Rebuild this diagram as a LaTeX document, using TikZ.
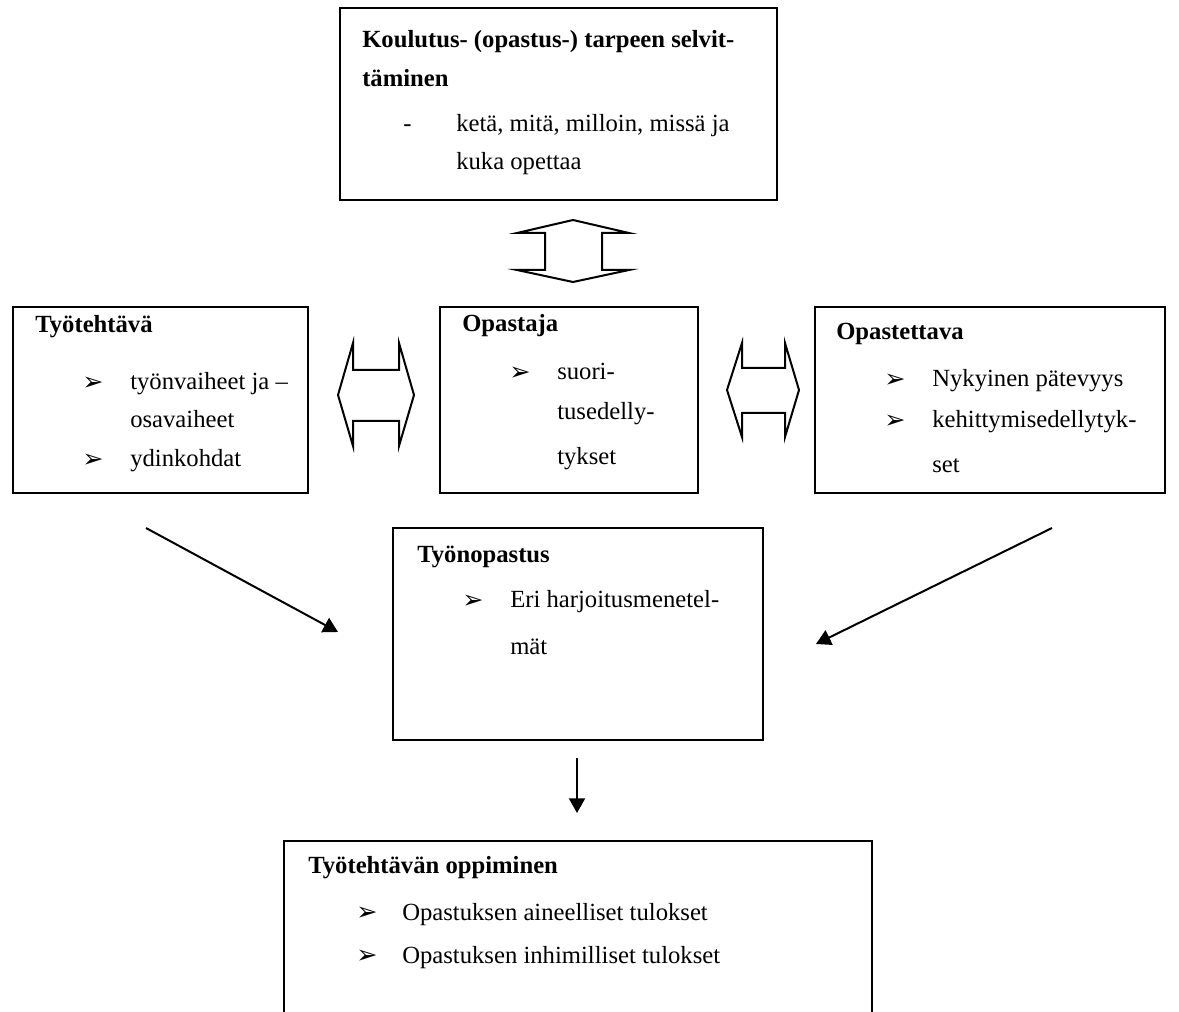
\documentclass[tikz,border=0pt]{standalone}
\usepackage{fontspec}
\setmainfont{Liberation Serif}
\newfontfamily\symfont{DejaVu Sans}
\usetikzlibrary{arrows.meta}
\newdimen\px
\px=0.75pt
\tikzset{
  box/.style={draw, line width=1.3pt, anchor=north west, inner sep=0pt, outer sep=0pt},
  txt/.style={anchor=base west, inner sep=0pt, font=\fontsize{18.5}{22}\selectfont},
  hd/.style={txt, font=\fontsize{18.5}{22}\selectfont\bfseries},
  bul/.style={anchor=south west, inner sep=0pt, font=\symfont\fontsize{19}{22}\selectfont},
  dbl/.style={draw, line width=1.5pt, line join=miter, fill=white},
  arr/.style={line width=1.5pt, -{Triangle[length=11pt,width=12pt]}}
}
\begin{document}
\begin{tikzpicture}[x=0.75pt, y=-0.75pt]
\useasboundingbox (0,0) rectangle (1179,1012);
\clip (0,0) rectangle (1179,1012);
\fill[white] (0,0) rectangle (1179,1012);

% boxes
\node[box, minimum width=437\px, minimum height=192\px] (top) at (340,8) {};
\node[box, minimum width=295\px, minimum height=186\px] (tt) at (13,307) {};
\node[box, minimum width=258\px, minimum height=186\px] (op) at (440,307) {};
\node[box, minimum width=350\px, minimum height=186\px] (ope) at (815,307) {};
\node[box, minimum width=370\px, minimum height=212\px] (ton) at (393,528) {};
\node[box, minimum width=588\px, minimum height=200\px] (opp) at (284,841) {};

% top box text
\node[hd] (t1) at (362,48) {Koulutus- (opastus-) tarpeen selvit-};
\node[hd] (t2) at (362,87) {täminen};
\node[txt] (t3d) at (403,132) {-};
\node[txt] (t3) at (456,132) {ketä, mitä, milloin, missä ja};
\node[txt] (t4) at (456,170) {kuka opettaa};

% Työtehtävä
\node[hd] (a1) at (35,333) {Työtehtävä};
\node[bul] (a2b) at (82,391) {➢};
\node[txt] (a2) at (130,390) {työnvaiheet ja –};
\node[txt] (a3) at (130,428) {osavaiheet};
\node[bul] (a4b) at (82,468) {➢};
\node[txt] (a4) at (130,467) {ydinkohdat};

% Opastaja
\node[hd] (b1) at (462,332) {Opastaja};
\node[bul] (b2b) at (509,381) {➢};
\node[txt] (b2) at (557,380) {suori-};
\node[txt] (b3) at (557,420) {tusedelly-};
\node[txt] (b4) at (557,465) {tykset};

% Opastettava
\node[hd] (c1) at (836,340) {Opastettava};
\node[bul] (c2b) at (884,388) {➢};
\node[txt] (c2) at (932,387) {Nykyinen pätevyys};
\node[bul] (c3b) at (884,429) {➢};
\node[txt] (c3) at (932,428) {kehittymisedellytyk-};
\node[txt] (c4) at (932,473) {set};

% Työnopastus
\node[hd] (d1) at (417,562) {Työnopastus};
\node[bul] (d2b) at (462,609) {➢};
\node[txt] (d2) at (510,608) {Eri harjoitusmenetel-};
\node[txt] (d3) at (510,654) {mät};

% Työtehtävän oppiminen
\node[hd] (e1) at (308,873) {Työtehtävän oppiminen};
\node[bul] (e2b) at (356,921) {➢};
\node[txt] (e2) at (402,920) {Opastuksen aineelliset tulokset};
\node[bul] (e3b) at (356,964) {➢};
\node[txt] (e3) at (402,963) {Opastuksen inhimilliset tulokset};

% double arrows
\draw[dbl] (573,220) -- (629,233) -- (602,233) -- (602,270) -- (629,270) -- (573,282)
  -- (517,270) -- (545,270) -- (545,233) -- (517,233) -- cycle;
\draw[dbl] (338,395) -- (353,343) -- (353,370) -- (399,370) -- (399,343) -- (414,395)
  -- (399,446) -- (399,421) -- (353,421) -- (353,446) -- cycle;
\draw[dbl] (727,390) -- (742,343) -- (742,368) -- (785,368) -- (785,343) -- (799,390)
  -- (785,437) -- (785,413) -- (742,413) -- (742,437) -- cycle;

% arrows
\coordinate (l1) at (146,528);
\coordinate (l2) at (338,632);
\coordinate (r1) at (1052,528);
\coordinate (r2) at (816,644);
\coordinate (dn1) at (577,758);
\coordinate (dn2) at (577,813);
\draw[arr] (l1) -- (l2);
\draw[arr] (r1) -- (r2);
\draw[arr] (dn1) -- (dn2);
\end{tikzpicture}
\end{document}
